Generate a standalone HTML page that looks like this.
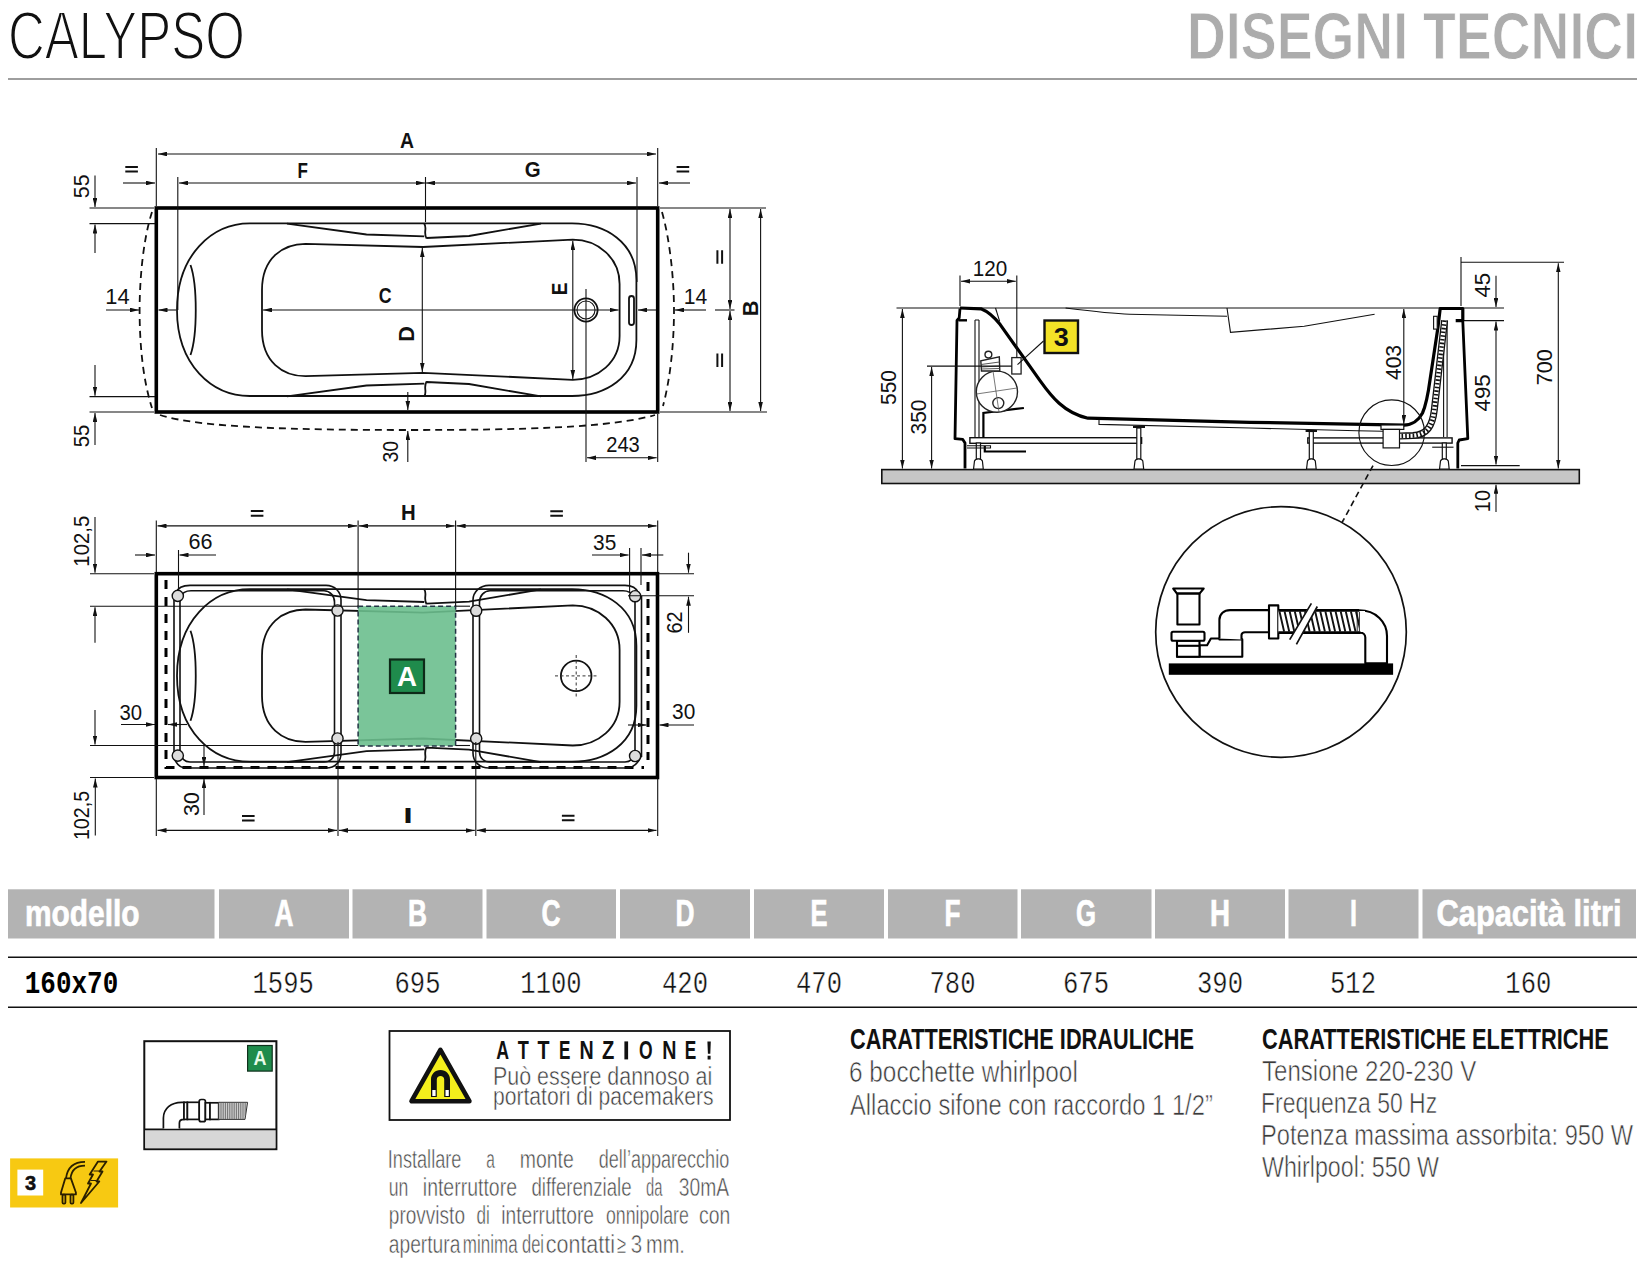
<!DOCTYPE html>
<html><head><meta charset="utf-8">
<title>Calypso - Disegni tecnici</title>
<style>
html,body{margin:0;padding:0;background:#fff;width:1650px;height:1266px;overflow:hidden;}
svg{display:block;}
text{font-family:"Liberation Sans",sans-serif;}
.m{font-family:"Liberation Mono",monospace;}
.b{font-weight:bold;}
.th{fill:#fff;stroke:#fff;stroke-width:0.7px;font-weight:bold;font-size:37px;text-anchor:middle;}
.td{font-family:"Liberation Mono",monospace;font-size:32px;text-anchor:middle;fill:#111;stroke:#fff;stroke-width:0.4px;}
.bt{font-size:30px;fill:#3a3a3a;stroke:#fff;stroke-width:0.6px;}
.dim{font-size:22px;fill:#111;}
.lbl{font-size:22px;font-weight:bold;fill:#111;}
.ln{stroke:#111;stroke-width:1.1;fill:none;}
.thk{stroke:#000;stroke-width:3.2;fill:none;}
.med{stroke:#111;stroke-width:1.8;fill:none;}
.dsh{stroke:#111;stroke-width:1.8;fill:none;stroke-dasharray:7 5;}
</style></head>
<body>
<svg width="1650" height="1266" viewBox="0 0 1650 1266">
<defs>
<marker id="ar" viewBox="0 0 9 4.6" refX="9" refY="2.3" markerWidth="9" markerHeight="4.6" markerUnits="userSpaceOnUse" orient="auto-start-reverse"><path d="M0,0 L9,2.3 L0,4.6 z" fill="#111"/></marker>
</defs>

<!-- ===== HEADER ===== -->
<g id="hdr">
<text id="t0" x="8.0" y="59" font-size="68.6" textLength="237.0" lengthAdjust="spacingAndGlyphs" fill="#111" stroke="#fff" stroke-width="1.9">CALYPSO</text>
<text id="t1" x="1187.0" y="58.6" font-size="66.3" font-weight="bold" textLength="451.1" lengthAdjust="spacingAndGlyphs" fill="#acacac" stroke="#fff" stroke-width="0.9">DISEGNI TECNICI</text>
<line x1="8" y1="79" x2="1637" y2="79" stroke="#7e7e7e" stroke-width="1.7"/>
</g>

<!-- ===== TABLE ===== -->
<g id="tbl">
<g fill="#b3b3b3">
<rect x="8" y="889.3" width="206.5" height="49.2"/>
<rect x="219" y="889.3" width="130" height="49.2"/>
<rect x="352.5" y="889.3" width="130" height="49.2"/>
<rect x="486.5" y="889.3" width="129.5" height="49.2"/>
<rect x="620" y="889.3" width="130" height="49.2"/>
<rect x="754" y="889.3" width="130" height="49.2"/>
<rect x="888" y="889.3" width="129.5" height="49.2"/>
<rect x="1021" y="889.3" width="130.5" height="49.2"/>
<rect x="1155" y="889.3" width="130" height="49.2"/>
<rect x="1288.5" y="889.3" width="130" height="49.2"/>
<rect x="1422.5" y="889.3" width="213.5" height="49.2"/>
</g>
<text class="th" x="25" y="926.4" style="text-anchor:start" textLength="114.5" lengthAdjust="spacingAndGlyphs">modello</text>
<text class="th" x="284" y="926.4" textLength="19" lengthAdjust="spacingAndGlyphs">A</text>
<text class="th" x="417.5" y="926.4" textLength="19" lengthAdjust="spacingAndGlyphs">B</text>
<text class="th" x="551" y="926.4" textLength="19" lengthAdjust="spacingAndGlyphs">C</text>
<text class="th" x="685" y="926.4" textLength="19" lengthAdjust="spacingAndGlyphs">D</text>
<text class="th" x="819" y="926.4" textLength="17" lengthAdjust="spacingAndGlyphs">E</text>
<text class="th" x="952.5" y="926.4" textLength="16" lengthAdjust="spacingAndGlyphs">F</text>
<text class="th" x="1086" y="926.4" textLength="20" lengthAdjust="spacingAndGlyphs">G</text>
<text class="th" x="1220" y="926.4" textLength="20" lengthAdjust="spacingAndGlyphs">H</text>
<text class="th" x="1353.5" y="926.4" textLength="7" lengthAdjust="spacingAndGlyphs">I</text>
<text class="th" x="1529" y="926.4" textLength="185" lengthAdjust="spacingAndGlyphs">Capacità litri</text>
<line x1="8" y1="957.3" x2="1637" y2="957.3" stroke="#111" stroke-width="1.6"/>
<line x1="8" y1="1007.3" x2="1637" y2="1007.3" stroke="#111" stroke-width="1.6"/>
<text class="m b" x="24.8" y="992.8" font-size="31" textLength="93.4" lengthAdjust="spacingAndGlyphs" fill="#000">160x70</text>
<text class="td" x="283.2" y="992.8" textLength="61.3" lengthAdjust="spacingAndGlyphs">1595</text>
<text class="td" x="417.5" y="992.8" textLength="46" lengthAdjust="spacingAndGlyphs">695</text>
<text class="td" x="551" y="992.8" textLength="61.3" lengthAdjust="spacingAndGlyphs">1100</text>
<text class="td" x="685" y="992.8" textLength="46" lengthAdjust="spacingAndGlyphs">420</text>
<text class="td" x="819" y="992.8" textLength="46" lengthAdjust="spacingAndGlyphs">470</text>
<text class="td" x="952.5" y="992.8" textLength="46" lengthAdjust="spacingAndGlyphs">780</text>
<text class="td" x="1086" y="992.8" textLength="46" lengthAdjust="spacingAndGlyphs">675</text>
<text class="td" x="1220" y="992.8" textLength="46" lengthAdjust="spacingAndGlyphs">390</text>
<text class="td" x="1353" y="992.8" textLength="46" lengthAdjust="spacingAndGlyphs">512</text>
<text class="td" x="1528.3" y="992.8" textLength="46" lengthAdjust="spacingAndGlyphs">160</text>
</g>

<!-- ===== BOTTOM TEXT ===== -->
<g id="btxt">
<text id="b0" x="850.0" y="1049.2" font-size="30" font-weight="bold" fill="#111" textLength="344.0" lengthAdjust="spacingAndGlyphs">CARATTERISTICHE IDRAULICHE</text>
<text id="b1" class="bt" x="849.0" y="1081.8" textLength="228.8" lengthAdjust="spacingAndGlyphs">6 bocchette whirlpool</text>
<text id="b2" class="bt" x="850.0" y="1114.7" textLength="362.8" lengthAdjust="spacingAndGlyphs">Allaccio sifone con raccordo 1 1/2”</text>
<text id="b3" x="1262.0" y="1049.2" font-size="30" font-weight="bold" fill="#111" textLength="346.8" lengthAdjust="spacingAndGlyphs">CARATTERISTICHE ELETTRICHE</text>
<text id="b4" class="bt" x="1262.0" y="1081.2" textLength="214.2" lengthAdjust="spacingAndGlyphs">Tensione 220-230 V</text>
<text id="b5" class="bt" x="1261.0" y="1113" textLength="176.2" lengthAdjust="spacingAndGlyphs">Frequenza 50 Hz</text>
<text id="b6" class="bt" x="1261.0" y="1144.9" textLength="372.0" lengthAdjust="spacingAndGlyphs">Potenza massima assorbita: 950 W</text>
<text id="b7" class="bt" x="1262.0" y="1176.7" textLength="177.0" lengthAdjust="spacingAndGlyphs">Whirlpool: 550 W</text>
</g>

<!-- ===== ATTENTION ===== -->
<g id="att">
<rect x="389.5" y="1031" width="340.5" height="89" fill="none" stroke="#111" stroke-width="1.8"/>
<g font-size="26" font-weight="bold" fill="#111">
<text id="a0_0" x="496.2" y="1059.4" textLength="12.8" lengthAdjust="spacingAndGlyphs">A</text>
<text id="a0_1" x="517.8" y="1059.4" textLength="11.1" lengthAdjust="spacingAndGlyphs">T</text>
<text id="a0_2" x="537.6" y="1059.4" textLength="12.0" lengthAdjust="spacingAndGlyphs">T</text>
<text id="a0_3" x="559.0" y="1059.4" textLength="11.4" lengthAdjust="spacingAndGlyphs">E</text>
<text id="a0_4" x="579.6" y="1059.4" textLength="14.2" lengthAdjust="spacingAndGlyphs">N</text>
<text id="a0_5" x="602.0" y="1059.4" textLength="12.3" lengthAdjust="spacingAndGlyphs">Z</text>
<rect x="624.4" y="1041.4" width="3.7" height="18" fill="#111"/>
<text id="a0_7" x="639.0" y="1059.4" textLength="13.6" lengthAdjust="spacingAndGlyphs">O</text>
<text id="a0_8" x="662.2" y="1059.4" textLength="14.2" lengthAdjust="spacingAndGlyphs">N</text>
<text id="a0_9" x="684.7" y="1059.4" textLength="11.5" lengthAdjust="spacingAndGlyphs">E</text>
<path d="M707.4,1041.4 h3.4 l-0.5,12.3 h-2.4 z M707.6,1055.7 h3 v3.7 h-3 z" fill="#111"/>
</g>
<text id="a1" x="493.0" y="1084.6" font-size="25" fill="#3c3c3c" stroke="#fff" stroke-width="0.5" textLength="219.2" lengthAdjust="spacingAndGlyphs">Può essere dannoso ai</text>
<text id="a2" x="493.0" y="1105.1" font-size="25" fill="#3c3c3c" stroke="#fff" stroke-width="0.5" textLength="220.5" lengthAdjust="spacingAndGlyphs">portatori di pacemakers</text>
<g font-size="25" fill="#4a4a4a" stroke="#fff" stroke-width="0.5">
<text id="p0" x="387.8" y="1167.5" textLength="73.6" lengthAdjust="spacingAndGlyphs">Installare</text>
<text id="p1" x="486.3" y="1167.5" textLength="8.6" lengthAdjust="spacingAndGlyphs">a</text>
<text id="p2" x="519.8" y="1167.5" textLength="54.0" lengthAdjust="spacingAndGlyphs">monte</text>
<text id="p3" x="598.8" y="1167.5" textLength="130.4" lengthAdjust="spacingAndGlyphs">dell’apparecchio</text>
<text id="p4" x="388.8" y="1196.2" textLength="19.6" lengthAdjust="spacingAndGlyphs">un</text>
<text id="p5" x="422.8" y="1196.2" textLength="94.2" lengthAdjust="spacingAndGlyphs">interruttore</text>
<text id="p6" x="531.4" y="1196.2" textLength="100.2" lengthAdjust="spacingAndGlyphs">differenziale</text>
<text id="p7" x="646.0" y="1196.2" textLength="16.4" lengthAdjust="spacingAndGlyphs">da</text>
<text id="p8" x="678.8" y="1196.2" textLength="50.4" lengthAdjust="spacingAndGlyphs">30mA</text>
<text id="p9" x="388.8" y="1224.4" textLength="76.2" lengthAdjust="spacingAndGlyphs">provvisto</text>
<text id="p10" x="476.5" y="1224.4" textLength="13.3" lengthAdjust="spacingAndGlyphs">di</text>
<text id="p11" x="501.2" y="1224.4" textLength="92.8" lengthAdjust="spacingAndGlyphs">interruttore</text>
<text id="p12" x="606.0" y="1224.4" textLength="82.8" lengthAdjust="spacingAndGlyphs">onnipolare</text>
<text id="p13" x="699.0" y="1224.4" textLength="31.2" lengthAdjust="spacingAndGlyphs">con</text>
<text id="p14" x="388.8" y="1252.6" textLength="71.6" lengthAdjust="spacingAndGlyphs">apertura</text>
<text id="p15" x="462.8" y="1252.6" textLength="54.8" lengthAdjust="spacingAndGlyphs">minima</text>
<text id="p16" x="522.0" y="1252.6" textLength="22.0" lengthAdjust="spacingAndGlyphs">dei</text>
<text id="p17" x="545.8" y="1252.6" textLength="69.2" lengthAdjust="spacingAndGlyphs">contatti</text>
<text id="p18" x="617.0" y="1252.6" textLength="9.0" lengthAdjust="spacingAndGlyphs">≥</text>
<text id="p19" x="630.7" y="1252.6" textLength="11.4" lengthAdjust="spacingAndGlyphs">3</text>
<text id="p20" x="646.0" y="1252.6" textLength="38.9" lengthAdjust="spacingAndGlyphs">mm.</text>
</g>
</g>

<!-- ===== DRAWING 1: top plan ===== -->
<g id="d1">
<!-- dashed outline -->
<path class="dsh" d="M152,212 C143,240 139.6,280 139.6,310 C139.6,345 143,380 152,408"/>
<path class="dsh" d="M160,415 C200,428 300,430 409,430 C520,430 610,428 655,415"/>
<path class="dsh" d="M662,212 C670,240 674,280 674,310 C674,345 670,380 663,406"/>
<!-- main rect -->
<rect x="156.3" y="208" width="501.4" height="204" fill="none" stroke="#000" stroke-width="3.6"/>
<!-- bath outer rim -->
<path class="med" d="M249.8,223.4 L572,223.4 C605,223.4 636.4,242 636.4,280 L636.4,340 C636.4,378 605,396 572,396 L249.8,396 C212,396 177,365 177,310 C177,255 212,223.4 249.8,223.4 Z"/>
<!-- inner rim -->
<path class="med" d="M305.5,243.8 L423,247 L572.8,239.6 C598,239.6 619.6,258 619.6,284 L619.6,336 C619.6,362 598,379.8 572.8,379.8 L423,372.8 L305.5,376.2 C283,376.2 262,362 262,330 L262,290 C262,258 283,243.8 305.5,243.8 Z"/>
<!-- armrests -->
<path class="med" d="M287,223.6 L366.5,234.5 L424.2,236.3 M426.6,238 L469,236 L541,223.6 M424.2,223.6 C427.5,228 423,233 426.6,238.5"/>
<path class="med" d="M287,396.4 L366.5,385.5 L424.2,383.7 M426.6,382 L469,384 L541,396.4 M424.2,396.4 C427.5,392 423,387 426.6,381.5"/>
<!-- headrest -->
<path class="med" d="M190.5,265 C197.5,285 197.5,335 190.5,355"/>
<!-- drain + overflow -->
<circle cx="586" cy="310" r="11.6" class="med"/>
<circle cx="586" cy="310" r="9" class="ln"/>
<rect x="629" y="296" width="5" height="29" rx="2.5" class="med" stroke-width="1.4"/>
<!-- dimension lines -->
<g class="ln">
<line x1="156.3" y1="148" x2="156.3" y2="206"/>
<line x1="657.7" y1="148" x2="657.7" y2="206"/>
<line x1="177.8" y1="177" x2="177.8" y2="310"/>
<line x1="425.5" y1="177" x2="425.5" y2="222"/>
<line x1="637" y1="177" x2="637" y2="282"/>
<line x1="158" y1="154" x2="656" y2="154" marker-start="url(#ar)" marker-end="url(#ar)"/>
<line x1="179" y1="183" x2="425" y2="183" marker-start="url(#ar)" marker-end="url(#ar)"/>
<line x1="426" y1="183" x2="636" y2="183" marker-start="url(#ar)" marker-end="url(#ar)"/>
<line x1="123" y1="183" x2="155" y2="183" marker-end="url(#ar)"/>
<line x1="690" y1="183" x2="659" y2="183" marker-end="url(#ar)"/>
<!-- 55 top/bottom -->
<line x1="89.5" y1="208" x2="154" y2="208"/>
<line x1="89.5" y1="223.6" x2="155" y2="223.6"/>
<line x1="95" y1="175.6" x2="95" y2="207" marker-end="url(#ar)"/>
<line x1="95" y1="253" x2="95" y2="224.5" marker-end="url(#ar)"/>
<line x1="89.5" y1="396.6" x2="155" y2="396.6"/>
<line x1="89.5" y1="412" x2="154" y2="412"/>
<line x1="95" y1="365" x2="95" y2="395.7" marker-end="url(#ar)"/>
<line x1="95" y1="445" x2="95" y2="413" marker-end="url(#ar)"/>
<!-- 14 left -->
<line x1="106" y1="310" x2="139" y2="310" marker-end="url(#ar)"/>
<line x1="176" y1="310" x2="158.5" y2="310" marker-end="url(#ar)"/>
<!-- C -->
<line x1="263" y1="310" x2="618.6" y2="310" marker-start="url(#ar)" marker-end="url(#ar)"/>
<!-- 14 right -->
<line x1="656" y1="310" x2="638" y2="310" marker-end="url(#ar)"/>
<line x1="706" y1="310" x2="675" y2="310" marker-end="url(#ar)"/>
<!-- D, E -->
<line x1="422.3" y1="248" x2="422.3" y2="372" marker-start="url(#ar)" marker-end="url(#ar)"/>
<line x1="572.8" y1="241" x2="572.8" y2="379" marker-start="url(#ar)" marker-end="url(#ar)"/>
<!-- drain axis + 243 -->
<line x1="586" y1="289" x2="586" y2="462"/>
<line x1="657.7" y1="414" x2="657.7" y2="462"/>
<line x1="587" y1="457.8" x2="656.7" y2="457.8" marker-start="url(#ar)" marker-end="url(#ar)"/>
<!-- 30 -->
<line x1="407.8" y1="392" x2="407.8" y2="410" marker-end="url(#ar)"/>
<line x1="407.8" y1="462" x2="407.8" y2="431" marker-end="url(#ar)"/>
<!-- B -->
<line x1="660" y1="208" x2="766" y2="208"/>
<line x1="660" y1="412" x2="767" y2="412"/>
<line x1="715" y1="310" x2="734.5" y2="310"/>
<line x1="730" y1="209" x2="730" y2="309" marker-start="url(#ar)" marker-end="url(#ar)"/>
<line x1="730" y1="311" x2="730" y2="411" marker-start="url(#ar)" marker-end="url(#ar)"/>
<line x1="760.6" y1="209" x2="760.6" y2="411" marker-start="url(#ar)" marker-end="url(#ar)"/>
</g>
<!-- labels -->
</g>

<!-- ===== DRAWING 2: bottom plan with frame ===== -->
<g id="d2">
<rect x="156.3" y="573.7" width="501.2" height="203.8" fill="none" stroke="#000" stroke-width="3.6"/>
<!-- inner dashed (thick) -->
<path d="M166,580 L166,767.5 L644,767.5 M648,582 L648,760" fill="none" stroke="#000" stroke-width="3" stroke-dasharray="9 8"/>
<!-- bath outline (shifted) -->
<g transform="translate(0,365.7)">
<path class="med" d="M249.8,223.4 L572,223.4 C605,223.4 636.4,242 636.4,280 L636.4,340 C636.4,378 605,396 572,396 L249.8,396 C212,396 177,365 177,310 C177,255 212,223.4 249.8,223.4 Z"/>
<path class="med" d="M305.5,243.8 L423,247 L572.8,239.6 C598,239.6 619.6,258 619.6,284 L619.6,336 C619.6,362 598,379.8 572.8,379.8 L423,372.8 L305.5,376.2 C283,376.2 262,362 262,330 L262,290 C262,258 283,243.8 305.5,243.8 Z"/>
<path class="med" d="M287,223.6 L366.5,234.5 L424.2,236.3 M426.6,238 L469,236 L541,223.6 M424.2,223.6 C427.5,228 423,233 426.6,238.5"/>
<path class="med" d="M287,396.4 L366.5,385.5 L424.2,383.7 M426.6,382 L469,384 L541,396.4 M424.2,396.4 C427.5,392 423,387 426.6,381.5"/>
<path class="med" d="M190.5,265 C197.5,285 197.5,335 190.5,355"/>
</g>
<!-- green zone -->
<rect x="358.1" y="606.2" width="97.5" height="139.7" fill="#6cbf8e" fill-opacity="0.9" stroke="#234" stroke-width="1.5" stroke-dasharray="5 3"/>
<rect x="390" y="659.5" width="34" height="33.5" fill="#1f8b4c" stroke="#0d2a18" stroke-width="2.2"/>
<text x="407" y="685.5" font-size="27" font-weight="bold" fill="#fff" text-anchor="middle" textLength="20" lengthAdjust="spacingAndGlyphs">A</text>
<!-- drain -->
<circle cx="576.2" cy="675.9" r="15.3" class="med" stroke-width="1.6"/>
<path d="M555,675.9 L597,675.9 M576.2,655 L576.2,697" stroke="#333" stroke-width="1" stroke-dasharray="3 2.5" fill="none"/>
<!-- frame tubes -->
<g fill="none" stroke="#111" stroke-width="1.6">
<path d="M176,593 C178,587 183,585.4 190,585.4 L326,585.4 C335,585.4 341,592 341,600 L341,753 C341,762 335,768 326,768 L186,768 C180,768 176,763 174,758 M174,594 L174,757 M180,600 L180,752 C181,757 184,762 190,762 L324,762 C330,762 334.5,758 334.5,752 L334.5,602 C334.5,596 330,590.8 324,590.8 L191,590.8 C186,590.8 182,593 180,597"/>
<path d="M638.5,593 C636,587 631,585.4 625,585.4 L489,585.4 C480,585.4 473,592 473,600 L473,753 C473,762 480,768 489,768 L626,768 C633,768 638,763 641,757 M641.5,596 L641.5,757 M635,600 L635,752 C634,757 631,762 625,762 L490,762 C484,762 479.5,758 479.5,752 L479.5,602 C479.5,596 484,590.8 490,590.8 L623,590.8 C628,590.8 632,593 634.5,597"/>
</g>
<g fill="#dcdcdc" stroke="#111" stroke-width="1.4">
<circle cx="177.8" cy="595.9" r="5.6"/><circle cx="337.5" cy="610.5" r="5.6"/>
<circle cx="476.2" cy="610.7" r="5.6"/><circle cx="635.1" cy="596.2" r="5.6"/>
<circle cx="177.8" cy="755.6" r="5.6"/><circle cx="337.5" cy="738.5" r="5.6"/>
<circle cx="476.2" cy="738.6" r="5.6"/><circle cx="635.1" cy="756" r="5.6"/>
</g>
<!-- dimension lines -->
<g class="ln">
<line x1="156.3" y1="520.5" x2="156.3" y2="572"/>
<line x1="358.1" y1="520.5" x2="358.1" y2="606"/>
<line x1="455.6" y1="520.5" x2="455.6" y2="606"/>
<line x1="657.7" y1="520.5" x2="657.7" y2="572"/>
<line x1="157.5" y1="525.9" x2="357" y2="525.9" marker-start="url(#ar)" marker-end="url(#ar)"/>
<line x1="359" y1="525.9" x2="454.6" y2="525.9" marker-start="url(#ar)" marker-end="url(#ar)"/>
<line x1="456.6" y1="525.9" x2="656.5" y2="525.9" marker-start="url(#ar)" marker-end="url(#ar)"/>
<!-- 66 -->
<line x1="178.5" y1="550" x2="178.5" y2="590"/>
<line x1="135" y1="555" x2="155" y2="555" marker-end="url(#ar)"/>
<line x1="216" y1="555" x2="179.5" y2="555" marker-end="url(#ar)"/>
<!-- 35 -->
<line x1="629.6" y1="548" x2="629.6" y2="592"/>
<line x1="641" y1="548" x2="641" y2="585"/>
<line x1="592" y1="555" x2="628.6" y2="555" marker-end="url(#ar)"/>
<line x1="663.3" y1="555" x2="642" y2="555" marker-end="url(#ar)"/>
<!-- 102,5 top -->
<line x1="90" y1="573.7" x2="154" y2="573.7"/>
<line x1="90" y1="606.2" x2="358" y2="606.2"/>
<line x1="455.6" y1="606.2" x2="470" y2="606.2"/>
<line x1="95" y1="517" x2="95" y2="572.7" marker-end="url(#ar)"/>
<line x1="95" y1="642.7" x2="95" y2="607.2" marker-end="url(#ar)"/>
<!-- 62 -->
<line x1="659" y1="573.7" x2="694" y2="573.7"/>
<line x1="628" y1="595.7" x2="694" y2="595.7"/>
<line x1="688.5" y1="552.7" x2="688.5" y2="572.7" marker-end="url(#ar)"/>
<line x1="688.5" y1="632.8" x2="688.5" y2="596.7" marker-end="url(#ar)"/>
<!-- 102,5 bottom -->
<line x1="90" y1="745.5" x2="358" y2="745.5"/>
<line x1="455.6" y1="745.5" x2="470" y2="745.5"/>
<line x1="90" y1="777.5" x2="154" y2="777.5"/>
<line x1="95" y1="710" x2="95" y2="744.5" marker-end="url(#ar)"/>
<line x1="95.3" y1="835.5" x2="95.3" y2="778.5" marker-end="url(#ar)"/>
<!-- 30 left / right -->
<line x1="121" y1="724.5" x2="155" y2="724.5" marker-end="url(#ar)"/>
<line x1="187" y1="724.5" x2="168" y2="724.5" marker-end="url(#ar)"/>
<line x1="628" y1="725" x2="646.5" y2="725" marker-end="url(#ar)"/>
<line x1="694" y1="725" x2="659.5" y2="725" marker-end="url(#ar)"/>
<!-- 30 bottom -->
<line x1="204" y1="746" x2="204" y2="766" marker-end="url(#ar)"/>
<line x1="204" y1="815" x2="204" y2="779" marker-end="url(#ar)"/>
<!-- bottom dims -->
<line x1="156.3" y1="779" x2="156.3" y2="836"/>
<line x1="338" y1="742" x2="338" y2="836"/>
<line x1="475.8" y1="742" x2="475.8" y2="836"/>
<line x1="657.7" y1="779" x2="657.7" y2="836"/>
<line x1="157.5" y1="830.4" x2="337" y2="830.4" marker-start="url(#ar)" marker-end="url(#ar)"/>
<line x1="339" y1="830.4" x2="474.8" y2="830.4" marker-start="url(#ar)" marker-end="url(#ar)"/>
<line x1="476.8" y1="830.4" x2="656.5" y2="830.4" marker-start="url(#ar)" marker-end="url(#ar)"/>
</g>
</g>

<!-- ===== DRAWING 3: side section ===== -->
<g id="d3">
<!-- floor slab -->
<rect x="881.8" y="469.6" width="697.5" height="13.9" fill="#c6c6c6" stroke="#111" stroke-width="1.6"/>
<!-- top reference line -->
<line class="ln" x1="896.5" y1="308" x2="1440" y2="308"/>
<line class="ln" x1="1463" y1="308" x2="1504" y2="308"/>
<line class="ln" x1="1463" y1="320.6" x2="1504" y2="320.6"/>
<!-- thin armrest profile -->
<path class="ln" stroke-width="1.4" d="M1065.6,308 C1090,311 1110,313.5 1129.5,314.2 L1227,316.3 M1227,308 L1230.5,332.3 L1304.2,326.3 L1374.6,314.2"/>
<path class="ln" stroke-width="1.3" d="M995.5,308 L999.7,321.3"/>
<!-- bath shell (thick) -->
<path fill="none" stroke="#000" stroke-width="3.2" stroke-linejoin="round" d="M960,308 L981,308.8 C989,312 995,318 1000.2,324.6 L1040,380.6 C1051,396 1064,413 1088,418.2 L1250,422.3 L1403.8,425.1 C1412,425 1419,420 1422.5,413 C1426,405 1428,395 1430,380 L1437.9,327.7 L1440.2,308.5 L1462.8,308.5 L1462.8,320.6 L1455.7,320.6"/>
<!-- left panel -->
<path fill="none" stroke="#000" stroke-width="2.8" stroke-linejoin="round" d="M960,308.5 L959.2,317.8 L957,320.5 L955,438.7 L962.8,439.4 L965,443 L965,468.5"/>
<line x1="958.5" y1="320.3" x2="967" y2="320.3" stroke="#000" stroke-width="2.4"/>
<!-- right panel -->
<path fill="none" stroke="#000" stroke-width="2.8" stroke-linejoin="round" d="M1462.8,321.3 L1467.8,438.6 L1459.2,440 L1457.8,443 L1457.8,468.5"/>
<!-- inner posts -->
<path class="ln" d="M975,320 L975,437 M979,320 L979,437 M975,320 L979,320"/>
<path class="ln" d="M1443.6,320 L1443.6,437 M1447.1,320 L1447.1,437"/>
<!-- plate under bottom -->
<path class="ln" stroke-width="1.3" d="M1099,420 L1099,424.4 L1250,428 L1356.8,430.8 L1383,431.3"/>
<!-- frame bars -->
<g fill="#fff" stroke="#111" stroke-width="1.4">
<rect x="969.9" y="437.7" width="171.7" height="5.6"/>
<rect x="1307.8" y="437.9" width="144.3" height="5.2"/>
</g>
<!-- legs -->
<g fill="#fff" stroke="#111" stroke-width="1.2">
<rect x="976.3" y="443" width="4.2" height="16"/>
<path d="M973.5,469.2 L974.5,461 C975,459.5 977,459 978.4,459 C980,459 982,459.5 982.4,461 L983.3,469.2 Z"/>
<rect x="1136.8" y="428" width="4" height="31"/>
<path d="M1134,469.2 L1135,461 C1135.5,459.5 1137.5,459 1138.8,459 C1140.4,459 1142.4,459.5 1142.8,461 L1143.7,469.2 Z"/>
<rect x="1309.3" y="431.5" width="4" height="27.5"/>
<path d="M1306.5,469.2 L1307.5,461 C1308,459.5 1310,459 1311.3,459 C1312.9,459 1314.9,459.5 1315.3,461 L1316.2,469.2 Z"/>
<rect x="1442.3" y="443" width="4" height="16"/>
<path d="M1439.5,469.2 L1440.5,461 C1441,459.5 1443,459 1444.3,459 C1445.9,459 1447.9,459.5 1448.3,461 L1449.2,469.2 Z"/>
</g>
<path d="M1133,427 L1145,427 M1305.6,431 L1317,431" stroke="#111" stroke-width="2"/>
<!-- left bracket -->
<path fill="none" stroke="#000" stroke-width="2.2" d="M983.4,437.5 L983.4,413 L1023.9,408 M984.8,446 L984.8,451.5 L1026,451.5"/>
<path class="ln" d="M967,445.8 L990.5,445.8 L990.5,448 L967,448"/>
<path class="ln" stroke-width="1.6" d="M1432.2,447.2 L1453.5,447.2"/>
<!-- motor -->
<g fill="#fff" stroke="#222" stroke-width="1.4">
<circle cx="996.9" cy="391.7" r="20.6"/>
<path d="M981.5,371 L980.8,360.7 L999.3,356.9 L999.8,371 Z"/>
<circle cx="988.4" cy="354.6" r="3.4"/>
<circle cx="998.3" cy="403.1" r="5.5"/>
</g>
<path d="M976.5,394 L1017,388 M993,371 L999,412" stroke="#555" stroke-width="0.8" fill="none"/>
<path d="M981,364.5 L999.5,362 M981.2,367 L999.6,366 M981.4,369 L999.7,368.5" stroke="#444" stroke-width="0.9" fill="none"/>
<!-- sensor + leader -->
<rect x="1011.8" y="357.6" width="9.3" height="16.4" fill="#fff" stroke="#222" stroke-width="1.3"/>
<line class="ln" x1="1017.5" y1="364.7" x2="1043.5" y2="341"/>
<!-- overflow hose -->
<path fill="none" stroke="#111" stroke-width="7" d="M1444.6,320.5 L1434.3,410 C1432.5,426 1427,434.8 1413,435.6 L1400,436"/>
<path fill="none" stroke="#fff" stroke-width="4.4" d="M1444.6,320.5 L1434.3,410 C1432.5,426 1427,434.8 1413,435.6 L1400,436"/>
<path fill="none" stroke="#111" stroke-width="4.4" stroke-dasharray="1.6 2.1" d="M1444.6,320.5 L1434.3,410 C1432.5,426 1427,434.8 1413,435.6 L1400,436"/>
<rect x="1433.6" y="316.3" width="3.6" height="12.8" fill="#fff" stroke="#111" stroke-width="1.1"/>
<!-- drain -->
<rect x="1381" y="425" width="22.8" height="4.4" fill="#fff" stroke="#111" stroke-width="1.2"/>
<rect x="1383.1" y="429.4" width="16.4" height="18.5" fill="#fff" stroke="#111" stroke-width="1.2"/>
<!-- detail circle + leader -->
<circle cx="1391.7" cy="432.7" r="32.8" class="ln" stroke-width="1.3"/>
<line x1="1373" y1="465.6" x2="1343.4" y2="520" stroke="#111" stroke-width="1.6" stroke-dasharray="6 4"/>
<!-- yellow 3 label -->
<rect x="1044.5" y="320.5" width="33.5" height="32.5" fill="#f3e227" stroke="#111" stroke-width="2.4"/>
<text x="1061.2" y="346" font-size="25" font-weight="bold" text-anchor="middle" fill="#111" textLength="15" lengthAdjust="spacingAndGlyphs">3</text>
<!-- dimension lines -->
<g class="ln">
<line x1="960" y1="275.6" x2="960" y2="306"/>
<line x1="1016.8" y1="275.6" x2="1016.8" y2="357.6"/>
<line x1="961" y1="281.3" x2="1015.8" y2="281.3" marker-start="url(#ar)" marker-end="url(#ar)"/>
<line x1="902.4" y1="309" x2="902.4" y2="468.6" marker-start="url(#ar)" marker-end="url(#ar)"/>
<line x1="927" y1="366.1" x2="1011.8" y2="366.1"/>
<line x1="931.6" y1="367.1" x2="931.6" y2="468.6" marker-start="url(#ar)" marker-end="url(#ar)"/>
<line x1="1403.8" y1="309" x2="1403.8" y2="424.1" marker-start="url(#ar)" marker-end="url(#ar)"/>
<line x1="1461" y1="257" x2="1461" y2="306"/>
<line x1="1461" y1="262.3" x2="1564" y2="262.3"/>
<line x1="1496" y1="275.7" x2="1496" y2="307" marker-end="url(#ar)"/>
<line x1="1496" y1="321.6" x2="1496" y2="464.6" marker-start="url(#ar)" marker-end="url(#ar)"/>
<line x1="1461" y1="465.6" x2="1519.7" y2="465.6"/>
<line x1="1558.3" y1="263.3" x2="1558.3" y2="468.6" marker-start="url(#ar)" marker-end="url(#ar)"/>
<line x1="1496" y1="512" x2="1496" y2="484.7" marker-end="url(#ar)"/>
</g>
</g>

<!-- ===== DRAWING 4: detail circle ===== -->
<g id="d4">
<line x1="1343.4" y1="520" x2="1325" y2="553" stroke="#111" stroke-width="1.6" stroke-dasharray="6 4"/>
<circle cx="1281" cy="632" r="125.3" fill="#fff" stroke="#111" stroke-width="1.7"/>
<rect x="1168.8" y="663.4" width="224.3" height="11.4" fill="#000"/>
<g fill="#fff" stroke="#000" stroke-width="2.1" stroke-linejoin="round">
<path d="M1173.2,588.5 L1203.7,588.5 L1199.5,593.6 L1177,593.6 Z"/>
<rect x="1177.4" y="593.6" width="22.1" height="30.9"/>
<path d="M1177,656.8 L1242.3,656.8 L1242.3,639.4 L1219.4,639.4 L1219.4,638.5 L1210.9,638.5 L1207.1,645.3 L1199.5,645.3 L1199.5,656.8 Z"/>
<rect x="1177" y="640.7" width="22.5" height="16.1"/>
<line x1="1177" y1="645.8" x2="1199.5" y2="645.8"/>
<rect x="1171.5" y="631.8" width="33" height="8.9" rx="1.5"/>
<path d="M1219.4,638.5 L1219.4,620 C1219.4,614 1224,610.1 1230,610.1 L1269,610.1 L1269,632.2 L1245,632.2 C1243,632.2 1241.5,633.5 1241.5,635 L1241.5,639.4"/>
<path d="M1359,610.3 C1376,610.3 1387,622 1387,636 L1387,663.3 L1365.3,663.3 L1365.3,637.5 C1365.3,634.5 1363,632.6 1360.5,632.6 L1269,632.6"/>
<rect x="1269" y="605.4" width="9.3" height="33.1"/>
</g>
<!-- corrugated hose -->
<rect x="1278.3" y="610.3" width="80.5" height="22.3" fill="#fff"/>
<g stroke="#111" stroke-width="1.9"><path d="M1279.5,611.5 L1284.1,631.5 M1284.6,611.5 L1289.2,631.5 M1289.7,611.5 L1294.3,631.5 M1294.8,611.5 L1299.4,631.5 M1299.9,611.5 L1304.5,631.5 M1305.0,611.5 L1309.6,631.5 M1310.1,611.5 L1314.7,631.5 M1315.2,611.5 L1319.8,631.5 M1320.3,611.5 L1324.9,631.5 M1325.4,611.5 L1330.0,631.5 M1330.5,611.5 L1335.1,631.5 M1335.6,611.5 L1340.2,631.5 M1340.7,611.5 L1345.3,631.5 M1345.8,611.5 L1350.4,631.5 M1350.9,611.5 L1355.5,631.5 M1356.0,611.5 L1360.6,631.5"/></g>
<rect x="1359" y="611" width="6" height="21" fill="#fff"/>
<path d="M1278.3,610.3 L1359,610.3 M1278.3,632.6 L1360.5,632.6" stroke="#000" stroke-width="2.8"/>
<path d="M1357.2,611.5 L1357.2,631.5 M1359.4,611.5 L1359.4,631.5" stroke="#111" stroke-width="0.9"/>
<!-- break mark -->
<path d="M1289,641 L1311.5,602 L1318.5,605.5 L1296,645 Z" fill="#fff"/>
<path d="M1289.7,639.6 L1311.4,603.4 M1296.4,644.4 L1317.3,606.5" stroke="#111" stroke-width="1.7"/>
</g>

<!-- ===== BOTTOM ICONS ===== -->
<g id="icons">
<!-- A box -->
<rect x="144.3" y="1041.2" width="132.1" height="108" fill="#fff" stroke="#111" stroke-width="2"/>
<rect x="145.3" y="1129.8" width="130.1" height="18.4" fill="#d7d7d7"/>
<line x1="144.3" y1="1129.3" x2="276.4" y2="1129.3" stroke="#111" stroke-width="1.8"/>
<rect x="247.6" y="1045.5" width="24.6" height="25.6" fill="#1f8c4c" stroke="#10301c" stroke-width="1.2"/>
<text x="260" y="1065" font-size="19.5" font-weight="bold" fill="#e8fbe8" text-anchor="middle" textLength="13" lengthAdjust="spacingAndGlyphs">A</text>
<g fill="#fff" stroke="#111" stroke-width="1.7">
<path d="M163.4,1128.6 L163.4,1118 C163.4,1108.8 171,1102.3 181.7,1102.3 L184,1102.3 L184,1119.4 C181,1119.4 179.4,1121 179.4,1123 L179.4,1128.6"/>
<rect x="184" y="1102.3" width="3.4" height="17.1"/>
<rect x="187.4" y="1102.3" width="12" height="17.1"/>
<rect x="199.2" y="1099.5" width="6.2" height="22.2" rx="2"/>
<rect x="205.4" y="1102.8" width="4.6" height="16.6"/>
<rect x="210" y="1102.8" width="8.7" height="16.6"/>
</g>
<path d="M218.7,1102.3 L247.6,1102.3 L245,1119.4 L218.7,1119.4 Z" fill="#cfcfcf" stroke="#333" stroke-width="1"/>
<path d="M221,1103 L221,1119 M223.2,1103 L223.2,1119 M225.4,1103 L225.4,1119 M227.6,1103 L227.6,1119 M229.8,1103 L229.8,1119 M232,1103 L232,1119 M234.2,1103 L234.2,1119 M236.4,1103 L236.4,1119 M238.6,1103 L238.6,1119 M240.8,1103 L240.8,1119 M243,1103 L243,1119 M245.2,1103 L245.2,1116" stroke="#666" stroke-width="0.9"/>
<!-- yellow 3 electrical -->
<rect x="10.1" y="1158.4" width="108" height="49.1" fill="#f7c912"/>
<rect x="17.4" y="1169.6" width="25.8" height="25.9" fill="#fff"/>
<text x="30.5" y="1189.8" font-size="20" font-weight="bold" fill="#111" text-anchor="middle" stroke="#111" stroke-width="0.5">3</text>
<g fill="none" stroke="#2a1f00" stroke-width="1.8" stroke-linejoin="round">
<path d="M85,1161.8 C75,1161.8 67.5,1166 66,1178.4 M85,1165.6 C76.5,1165.6 71.5,1169 70.5,1178.4"/>
<path d="M65.2,1178.4 L70.9,1178.4 L75.9,1192.5 L75.9,1194.4 L61,1194.4 L61,1192.5 Z"/>
<rect x="62.5" y="1194.6" width="2.9" height="9" rx="1"/>
<rect x="70.5" y="1194.6" width="2.9" height="9" rx="1"/>
<path d="M98,1161.6 L106.5,1161.6 L99.5,1171.5 L102.5,1171.5 L96.5,1181.5 L99.3,1181.5 L81,1203 L91,1183.5 L88,1183.5 L93,1174.5 L89.7,1174.5 Z"/>
<path d="M93.5,1171 L99,1171 M90.6,1180.5 L96,1180.5" stroke-width="1"/>
</g>
<!-- warning triangle -->
<path d="M440.4,1049.8 L411.5,1101.2 L469.4,1101.2 Z" fill="#f3ee1c" stroke="#111" stroke-width="4.6" stroke-linejoin="round"/>
<path d="M431,1096.9 L431,1079.5 C431,1074 435,1069.9 440.5,1069.9 C446,1069.9 450,1074 450,1079.5 L450,1096.9 L444.2,1096.9 L444.2,1079.5 C444.2,1077.3 442.6,1075.9 440.5,1075.9 C438.4,1075.9 436.8,1077.3 436.8,1079.5 L436.8,1096.9 Z" fill="#111"/>
<rect x="432.3" y="1090" width="3.3" height="6" fill="#fff"/>
<rect x="445.5" y="1090" width="3.3" height="6" fill="#fff"/>
</g>

<!-- equals signs -->
<path d="M125.3,166.9 h12.6 M125.3,171.5 h12.6 M676.6,166.9 h12.6 M676.6,171.5 h12.6 M717.4,250.2 v13.6 M722.1,250.2 v13.6 M717.4,353.4 v13.6 M722.1,353.4 v13.6 M250.8,511.1 h12.6 M250.8,515.7 h12.6 M550.3,511.2 h12.6 M550.3,515.8 h12.6 M242.0,815.9 h12.6 M242.0,820.5 h12.6 M561.9,815.7 h12.6 M561.9,820.3 h12.6" stroke="#111" stroke-width="2" fill="none"/>
<g id="dimtext" text-anchor="middle">
<text id="n1" class="dim" transform="translate(89.2,186.3) rotate(-90)" textLength="23.7" lengthAdjust="spacingAndGlyphs">55</text>
<text id="n2" class="dim" transform="translate(89.0,436.0) rotate(-90)" textLength="22.6" lengthAdjust="spacingAndGlyphs">55</text>
<text id="n3" class="dim" x="117.5" y="304.0" textLength="24.3" lengthAdjust="spacingAndGlyphs">14</text>
<text id="n4" class="dim" transform="translate(398.4,451.7) rotate(-90)" textLength="21.7" lengthAdjust="spacingAndGlyphs">30</text>
<text id="n5" class="dim" x="695.5" y="304.0" textLength="23.5" lengthAdjust="spacingAndGlyphs">14</text>
<text id="n6" class="dim" x="623.0" y="452.2" textLength="33.6" lengthAdjust="spacingAndGlyphs">243</text>
<text id="L1" class="lbl" x="406.9" y="147.8" textLength="14.0" lengthAdjust="spacingAndGlyphs">A</text>
<text id="L2" class="lbl" x="532.8" y="176.8" textLength="15.9" lengthAdjust="spacingAndGlyphs">G</text>
<text id="L3" class="lbl" x="302.7" y="177.6" textLength="10.4" lengthAdjust="spacingAndGlyphs">F</text>
<text id="L4" class="lbl" x="385.1" y="303.2" textLength="12.8" lengthAdjust="spacingAndGlyphs">C</text>
<text id="L5" class="lbl" transform="translate(413.8,334.0) rotate(-90)" textLength="15.6" lengthAdjust="spacingAndGlyphs">D</text>
<text id="L6" class="lbl" transform="translate(566.6,289.0) rotate(-90)" textLength="12.7" lengthAdjust="spacingAndGlyphs">E</text>
<text id="L7" class="lbl" transform="translate(757.6,308.4) rotate(-90)" textLength="15.8" lengthAdjust="spacingAndGlyphs">B</text>
<text id="n7" class="dim" transform="translate(89.0,541.2) rotate(-90)" textLength="50.9" lengthAdjust="spacingAndGlyphs">102,5</text>
<text id="n8" class="dim" x="200.6" y="549.4" textLength="24.0" lengthAdjust="spacingAndGlyphs">66</text>
<text id="L8" class="lbl" x="408.3" y="520.0" textLength="14.7" lengthAdjust="spacingAndGlyphs">H</text>
<text id="n9" class="dim" x="604.7" y="549.6" textLength="23.2" lengthAdjust="spacingAndGlyphs">35</text>
<text id="n10" class="dim" transform="translate(681.6,622.5) rotate(-90)" textLength="22.1" lengthAdjust="spacingAndGlyphs">62</text>
<text id="n11" class="dim" x="683.7" y="718.6" textLength="23.2" lengthAdjust="spacingAndGlyphs">30</text>
<text id="n12" class="dim" x="130.7" y="720.2" textLength="22.6" lengthAdjust="spacingAndGlyphs">30</text>
<text id="n13" class="dim" transform="translate(198.8,804.1) rotate(-90)" textLength="23.7" lengthAdjust="spacingAndGlyphs">30</text>
<text id="n14" class="dim" transform="translate(88.6,815.5) rotate(-90)" textLength="49.1" lengthAdjust="spacingAndGlyphs">102,5</text>
<text id="L9" class="lbl" x="408.0" y="823.4" textLength="9.5" lengthAdjust="spacingAndGlyphs">I</text>
<text id="n15" class="dim" x="990.0" y="275.6" textLength="34.5" lengthAdjust="spacingAndGlyphs">120</text>
<text id="n16" class="dim" transform="translate(896.0,387.5) rotate(-90)" textLength="34.9" lengthAdjust="spacingAndGlyphs">550</text>
<text id="n17" class="dim" transform="translate(926.2,417.0) rotate(-90)" textLength="34.8" lengthAdjust="spacingAndGlyphs">350</text>
<text id="n18" class="dim" transform="translate(1400.8,362.5) rotate(-90)" textLength="35.2" lengthAdjust="spacingAndGlyphs">403</text>
<text id="n19" class="dim" transform="translate(1490.0,285.2) rotate(-90)" textLength="24.8" lengthAdjust="spacingAndGlyphs">45</text>
<text id="n20" class="dim" transform="translate(1490.0,392.9) rotate(-90)" textLength="37.2" lengthAdjust="spacingAndGlyphs">495</text>
<text id="n21" class="dim" transform="translate(1551.8,367.2) rotate(-90)" textLength="36.2" lengthAdjust="spacingAndGlyphs">700</text>
<text id="n22" class="dim" transform="translate(1490.4,501.1) rotate(-90)" textLength="22.1" lengthAdjust="spacingAndGlyphs">10</text>
</g>


</svg>
</body></html>
